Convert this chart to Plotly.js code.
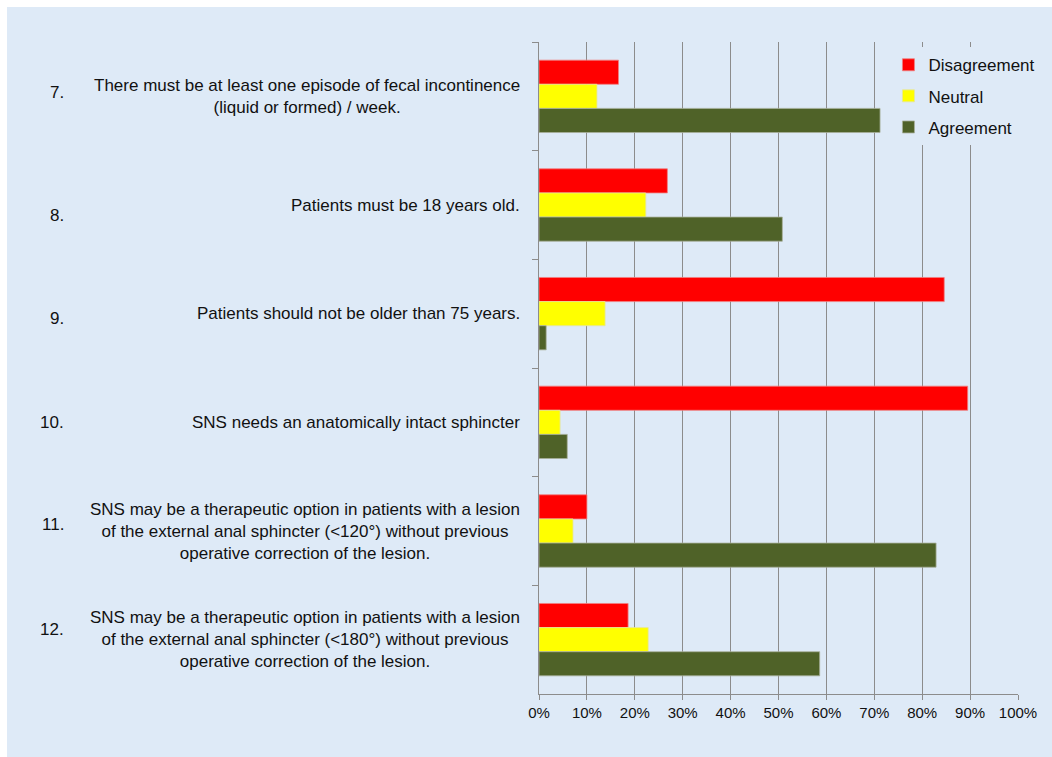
<!DOCTYPE html>
<html>
<head>
<meta charset="utf-8">
<script src="https://cdn.plot.ly/plotly-3.0.1.min.js"></script>
<style>
  html, body { margin: 0; padding: 0; background: #ffffff; width: 1052px; height: 757px; overflow: hidden; }
  #chart { position: absolute; left: 7px; top: 7px; width: 1045px; height: 750px; }
</style>
</head>
<body>
<div id="chart"></div>
<script>
// ---- Data ----
const itemNumbers = ['7.', '8.', '9.', '10.', '11.', '12.'];
const itemTexts = [
  'There must be at least one episode of fecal incontinence<br>(liquid or formed) / week.',
  'Patients must be 18 years old.',
  'Patients should not be older than 75 years.',
  'SNS needs an anatomically intact sphincter',
  'SNS may be a therapeutic option in patients with a lesion<br>of the external anal sphincter (<120°) without previous<br>operative correction of the lesion.',
  'SNS may be a therapeutic option in patients with a lesion<br>of the external anal sphincter (<180°) without previous<br>operative correction of the lesion.'
];
const disagreement = [0.166, 0.268, 0.846, 0.895, 0.100, 0.186];
const neutral      = [0.121, 0.223, 0.138, 0.044, 0.071, 0.228];
const agreement    = [0.712, 0.508, 0.015, 0.059, 0.829, 0.586];
const seriesNames  = ['Disagreement', 'Neutral', 'Agreement'];

// ---- Styles ----
const bg = '#DEEAF7';
const colors = ['#FF0000', '#FFFF00', '#4F6228'];
const edge = ['#F08080', '#E6E6A0', '#A8B09A'];
const numberShift = [-4, 10, 5, 0, -7, -10];
const font = "'Liberation Sans', Arial, sans-serif";

const seriesValues = [disagreement, neutral, agreement];
const traces = seriesValues.map((vals, i) => ({
  type: 'bar',
  orientation: 'h',
  name: seriesNames[i],
  legendgroup: 'g' + i,
  x: vals,
  y: itemNumbers,
  marker: { color: colors[i], line: { color: edge[i], width: 0.8 } },
  hoverinfo: 'x+name'
}));

const annotations = [];
itemNumbers.forEach((n, i) => {
  annotations.push({
    xref: 'paper', yref: 'y', x: 0, y: i,
    xanchor: 'right', yanchor: 'middle', xshift: -17,
    text: itemTexts[i], align: 'center', showarrow: false,
    font: { family: font, size: 17, color: '#111111' }
  });
  annotations.push({
    xref: 'paper', yref: 'y', x: 0, y: i,
    xanchor: 'right', yanchor: 'middle', xshift: -473, yshift: -numberShift[i],
    text: n, align: 'right', showarrow: false,
    font: { family: font, size: 17, color: '#111111' }
  });
});

const layout = {
  width: 1045, height: 750,
  paper_bgcolor: bg, plot_bgcolor: bg,
  margin: { l: 532, r: 33, t: 35, b: 63 },
  barmode: 'group', bargap: 0.334, bargroupgap: 0,
  font: { family: font, size: 16, color: '#111111' },
  xaxis: {
    range: [0, 1], dtick: 0.1, tick0: 0, tickformat: '.0%',
    showgrid: true, gridcolor: '#8C8C8C', gridwidth: 1,
    zeroline: false,
    showline: true, linecolor: '#8C8C8C', linewidth: 1,
    ticks: 'outside', ticklen: 5, tickcolor: '#8C8C8C',
    tickfont: { family: font, size: 15, color: '#111111' },
    fixedrange: true
  },
  yaxis: {
    type: 'category', autorange: false, range: [5.5, -0.5],
    categoryorder: 'array', categoryarray: itemNumbers,
    showticklabels: false, showgrid: false, zeroline: false,
    showline: true, linecolor: '#8C8C8C', linewidth: 1,
    ticks: 'outside', tickson: 'boundaries', ticklen: 6, tickcolor: '#8C8C8C',
    fixedrange: true
  },
  legend: {
    x: 0.728, xanchor: 'left', y: 0.992, yanchor: 'top',
    bgcolor: bg, borderwidth: 0,
    tracegroupgap: 6, traceorder: 'grouped',
    font: { family: font, size: 17, color: '#111111' }
  },
  annotations: annotations,
  showlegend: true
};

Plotly.newPlot('chart', traces, layout, { displayModeBar: false, staticPlot: true });
</script>
</body>
</html>
